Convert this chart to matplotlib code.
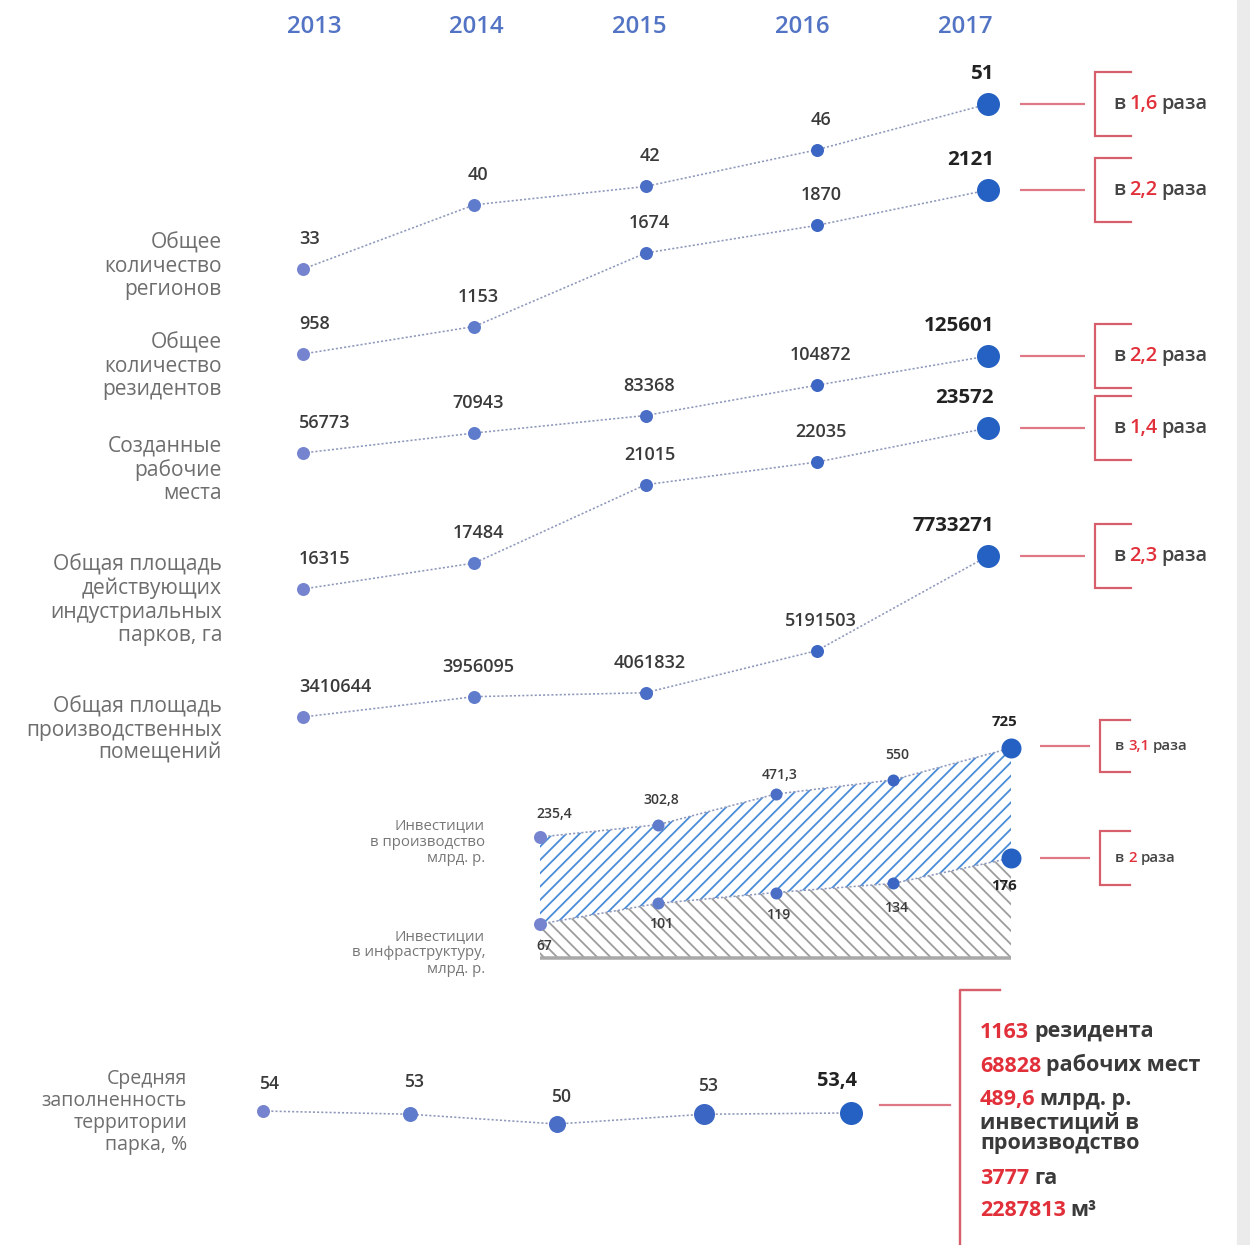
import matplotlib
matplotlib.use("Agg")
import matplotlib.pyplot as plt
from matplotlib.patches import Rectangle

DPI = 80
W, H = 1250, 1245
PT = 72 / DPI  # points per pixel

plt.rcParams['font.family'] = ['Open Sans', 'DejaVu Sans']
plt.rcParams['hatch.linewidth'] = 1.8 * PT

# ---------------- data ----------------
years = [2013, 2014, 2015, 2016, 2017]
regions = [33, 40, 42, 46, 51]
residents = [958, 1153, 1674, 1870, 2121]
jobs = [56773, 70943, 83368, 104872, 125601]
park_area_ha = [16315, 17484, 21015, 22035, 23572]
premises_area = [3410644, 3956095, 4061832, 5191503, 7733271]
invest_production = [235.4, 302.8, 471.3, 550, 725]
invest_infra = [67, 101, 119, 134, 176]
occupancy = [54, 53, 50, 53, 53.4]

main_names = ["Общее\nколичество\nрегионов",
              "Общее\nколичество\nрезидентов",
              "Созданные\nрабочие\nместа",
              "Общая площадь\nдействующих\nиндустриальных\nпарков, га",
              "Общая площадь\nпроизводственных\nпомещений"]
main_growth = ["1,6", "2,2", "2,2", "1,4", "2,3"]
invest_names = ["Инвестиции\nв производство\nмлрд. р.",
                "Инвестиции\nв инфраструктуру,\nмлрд. р."]
invest_growth = ["3,1", "2"]
occupancy_name = "Средняя\nзаполненность\nтерритории\nпарка, %"
summary_items = [("1163", "резидента"),
                 ("68828", "рабочих мест"),
                 ("489,6", "млрд. р."),
                 ("3777", "га"),
                 ("2287813", "м³")]
summary_extra = "инвестиций в\nпроизводство"

# ---------------- style ----------------
DOT_COLORS = ['#7684cf', '#5f7bcb', '#4a6dc6', '#3c66c3', '#2461c2']
LINE_COLOR = '#8e98bb'
RED_LINE = '#de7884'
RED_BRACKET = '#d65f6b'
RED_TEXT = '#e2303a'
DARK = '#3a3a3a'
GRAY = '#6e6e6e'
BLUE_HATCH = '#4a8bd6'
GRAY_HATCH = '#9d9d9d'


def fmt(v):
    return str(v).replace('.', ',')


fig = plt.figure(figsize=(W / DPI, H / DPI), dpi=DPI)
fig.patch.set_facecolor('white')

lay = fig.add_axes([0, 0, 1, 1])
lay.set_xlim(0, W)
lay.set_ylim(H, 0)
lay.axis('off')
lay.add_patch(Rectangle((1237, 0), 13, H, color='#ebebeb', zorder=0))


def make_axes(x_first, x_last, v_a, p_a, v_b, p_b):
    ax = fig.add_axes([0, 0, 1, 1])
    ax.patch.set_alpha(0)
    ax.axis('off')
    s = (x_last - x_first) / (years[-1] - years[0])
    ax.set_xlim(years[0] - x_first / s, years[0] + (W - x_first) / s)
    k = (p_b - p_a) / (v_a - v_b)
    ax.set_ylim(v_a - (H - p_a) / k, v_a + p_a / k)
    return ax


def layout_pos(ax, x, y):
    d = ax.transData.transform((x, y))
    return d[0], H - d[1]


def draw_series(ax, vals, sizes, label_dy, fs, fs_last):
    ax.plot(years, vals, ls=(0, (1.3, 1.3)), color=LINE_COLOR, lw=1.6 * PT, zorder=2)
    n = len(vals)
    for i, (yr, v) in enumerate(zip(years, vals)):
        ax.plot(yr, v, 'o', ms=sizes[i] * PT, color=DOT_COLORS[i], mec='none', zorder=4)
        last = i == n - 1
        if i == 0:
            ha, dx = 'left', -4
        elif last:
            ha, dx = 'right', 6
        else:
            ha, dx = 'center', 4
        dy = label_dy[i] if isinstance(label_dy, list) else label_dy
        ax.annotate(fmt(v), (yr, v), xytext=(dx * PT, dy * PT), textcoords='offset points',
                    ha=ha, va='center', fontsize=(fs_last if last else fs) * PT,
                    weight='bold' if last else 'semibold', color='#222' if last else DARK,
                    zorder=5)


def growth_text(x, y, num, fs):
    t = lay.text(x, y, "в", fontsize=fs * PT, color='#444', weight='semibold', va='center', ha='left')
    t2 = lay.annotate(num, xy=(1, 0), xycoords=t, xytext=(4 * PT, 0), textcoords='offset points',
                      fontsize=fs * PT, color=RED_TEXT, weight='semibold', va='bottom', ha='left')
    lay.annotate("раза", xy=(1, 0), xycoords=t2, xytext=(4 * PT, 0), textcoords='offset points',
                 fontsize=fs * PT, color='#444', weight='semibold', va='bottom', ha='left')


def bracket(y, x_line0, x_line1, x_br, half, tick):
    lay.plot([x_line0, x_line1], [y, y], color=RED_LINE, lw=2.2 * PT, solid_capstyle='butt')
    lay.plot([x_br + tick, x_br, x_br, x_br + tick], [y - half, y - half, y + half, y + half],
             color=RED_BRACKET, lw=2.2 * PT, solid_joinstyle='miter')


# ---------------- year header ----------------
hdr = make_axes(314, 965, 0, 0, 1, -1)
for yr in years:
    x, _ = layout_pos(hdr, yr, 0)
    lay.text(x, 27, str(yr), ha='center', va='center', fontsize=24 * PT,
             color='#5374c4', weight='semibold')

# ---------------- main series ----------------
main_series = [regions, residents, jobs, park_area_ha, premises_area]
anchors = [(269, 104), (354, 190), (453, 356), (589, 428), (717, 556)]
name_centers = [266, 366, 470, 600, 730]
for vals, (pa, pb), name, yc, g in zip(main_series, anchors, main_names, name_centers, main_growth):
    ax = make_axes(303, 988, vals[0], pa, vals[-1], pb)
    draw_series(ax, vals, [13, 13, 13, 13, 23], 30, 18, 20.5)
    lay.text(222, yc, name, ha='right', va='center', fontsize=21 * PT, color=GRAY,
             linespacing=1.13)
    _, yl = layout_pos(ax, years[-1], vals[-1])
    bracket(yl, 1020, 1085, 1095, 32, 36)
    growth_text(1113, yl, g, 20)

# ---------------- investments ----------------
BASE_PX = 958
ax_up = make_axes(540, 1011, invest_production[0], 837, invest_production[-1], 748)
base_up = ax_up.transData.inverted().transform((0, H - BASE_PX))[1]
ax_up.fill_between(years, invest_production, base_up, facecolor='white', edgecolor=BLUE_HATCH,
                   hatch='//', linewidth=0, zorder=1)
draw_series(ax_up, invest_production, [13, 12, 12, 12, 20], [23, 25, 19, 25, 26], 14, 15)

ax_lo = make_axes(540, 1011, invest_infra[0], 924, invest_infra[-1], 858)
base_lo = ax_lo.transData.inverted().transform((0, H - BASE_PX))[1]
ax_lo.fill_between(years, invest_infra, base_lo, facecolor='white', edgecolor=GRAY_HATCH,
                   hatch='\\\\', linewidth=0, zorder=1)
ax_lo.hlines(base_lo, years[0], years[-1], color='#a8a8a8', lw=3.5 * PT, zorder=2)
draw_series(ax_lo, invest_infra, [13, 12, 12, 12, 20], [-22, -21, -22, -25, -28], 14, 15)

lay.text(485, 842, invest_names[0], ha='right', va='center', fontsize=15 * PT, color='#777',
         linespacing=1.1)
lay.text(485, 953, invest_names[1], ha='right', va='center', fontsize=15 * PT, color='#777',
         linespacing=1.1)

_, yu = layout_pos(ax_up, years[-1], invest_production[-1])
bracket(yu - 2, 1040, 1090, 1100, 26, 30)
growth_text(1115, yu - 2, invest_growth[0], 15)
_, yd = layout_pos(ax_lo, years[-1], invest_infra[-1])
bracket(yd, 1040, 1090, 1100, 27, 30)
growth_text(1115, yd, invest_growth[1], 15)

# ---------------- occupancy ----------------
ax_oc = make_axes(263, 851, occupancy[0], 1111, occupancy[2], 1124)
draw_series(ax_oc, occupancy, [13, 15, 17, 21, 23], [27, 32, 27, 28, 32], 17.5, 20)
lay.text(187, 1112, occupancy_name, ha='right', va='center', fontsize=19.5 * PT, color=GRAY,
         linespacing=1.15)
_, yo = layout_pos(ax_oc, years[-1], occupancy[-1])
lay.plot([880, 950], [yo - 8, yo - 8], color=RED_LINE, lw=2.2 * PT)
lay.plot([1000, 960, 960], [990, 990, H], color=RED_BRACKET, lw=2.4 * PT)

# ---------------- summary box ----------------
sum_y = [1032, 1066, 1099, 1178, 1211]
for (num, txt), yy in zip(summary_items, sum_y):
    t = lay.text(980, yy, num, fontsize=21.5 * PT, color=RED_TEXT, weight='bold',
                 va='center', ha='left')
    lay.annotate(txt, xy=(1, 0), xycoords=t, xytext=(5 * PT, 0), textcoords='offset points',
                 fontsize=21.5 * PT, color=DARK, weight='bold', va='bottom', ha='left')
lay.text(980, 1133, summary_extra, fontsize=21.5 * PT, color=DARK, weight='bold',
         va='center', ha='left', linespacing=0.95)

fig.savefig("out.png", dpi=DPI, facecolor='white')
